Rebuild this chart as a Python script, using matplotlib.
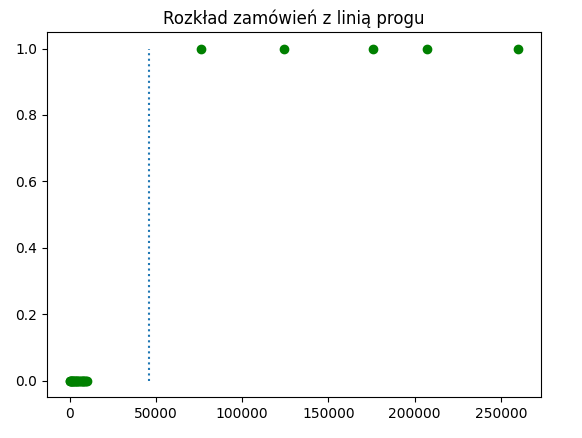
import matplotlib
matplotlib.use("Agg")
import matplotlib.pyplot as plt

# small orders (label 0) and large ones (label 1)
small_orders = [0, 300, 600, 900, 1200, 1500, 1800, 2100, 2500, 2900, 3300, 3700,
                4100, 4500, 5000, 5500, 6000, 6500, 7000, 7500, 8000, 8500, 9000, 9500, 10000]
big_orders = [76000, 124000, 176000, 207000, 260000]
threshold = 46000

x = small_orders + big_orders
y = [0] * len(small_orders) + [1] * len(big_orders)

fig = plt.figure(figsize=(5.82, 4.38), dpi=100)
ax = fig.add_axes([0.081, 0.093, 0.848, 0.834])
ax.scatter(x, y, color="green")
ax.vlines(threshold, 0, 1, linestyles="dotted")
ax.set_title("Rozkład zamówień z linią progu")
fig.savefig("out.png", dpi=100)
